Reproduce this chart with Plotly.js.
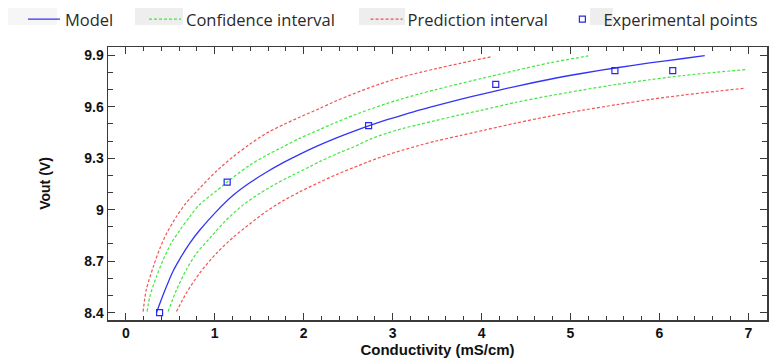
<!DOCTYPE html>
<html>
<head>
<meta charset="utf-8">
<script src="https://cdn.plot.ly/plotly-3.0.1.min.js"></script>
<style>html,body{margin:0;padding:0;background:#fff;}#chart{width:784px;height:364px;}</style>
</head>
<body>
<div id="chart"></div>
<script>
const modelX = [0.345, 0.44, 0.53, 0.61, 0.72, 0.83, 1.02, 1.21, 1.39, 1.58, 1.77, 1.96, 2.15, 2.37, 2.56, 2.73, 2.93, 3.12, 3.31, 3.49, 3.76, 4.02, 4.39, 4.77, 5.14, 5.52, 5.89, 6.27, 6.51];
const modelY = [8.40, 8.53, 8.64, 8.715, 8.805, 8.88, 8.99, 9.085, 9.155, 9.218, 9.274, 9.324, 9.37, 9.418, 9.456, 9.488, 9.523, 9.553, 9.582, 9.607, 9.643, 9.675, 9.719, 9.76, 9.795, 9.827, 9.855, 9.881, 9.898];

const confUpperX = [0.24, 0.27, 0.345, 0.42, 0.51, 0.61, 0.72, 0.83, 1.02, 1.21, 1.39, 1.58, 1.77, 1.96, 2.18, 2.37, 2.56, 2.745, 2.93, 3.12, 3.31, 3.49, 3.76, 4.02, 4.39, 4.77, 5.20];
const confUpperY = [8.406, 8.493, 8.61, 8.707, 8.804, 8.882, 8.96, 9.03, 9.11, 9.19, 9.258, 9.316, 9.367, 9.417, 9.467, 9.51, 9.55, 9.585, 9.618, 9.648, 9.676, 9.70, 9.735, 9.767, 9.812, 9.856, 9.896];

const confLowerX = [0.476, 0.57, 0.68, 0.795, 0.945, 1.13, 1.32, 1.51, 1.70, 1.88, 2.07, 2.18, 2.37, 2.56, 2.745, 2.93, 3.12, 3.31, 3.49, 3.76, 4.02, 4.39, 4.77, 5.14, 5.52, 5.89, 6.27, 6.64, 6.97];
const confLowerY = [8.406, 8.532, 8.649, 8.746, 8.834, 8.94, 9.028, 9.096, 9.154, 9.202, 9.251, 9.28, 9.325, 9.365, 9.41, 9.445, 9.474, 9.498, 9.52, 9.553, 9.582, 9.626, 9.664, 9.698, 9.73, 9.757, 9.782, 9.801, 9.816];

const predUpperX = [0.195, 0.23, 0.31, 0.38, 0.46, 0.57, 0.68, 0.83, 1.02, 1.21, 1.39, 1.58, 1.77, 1.96, 2.18, 2.37, 2.56, 2.745, 2.93, 3.12, 3.31, 3.49, 3.76, 4.10];
const predUpperY = [8.406, 8.532, 8.668, 8.77, 8.863, 8.96, 9.04, 9.125, 9.225, 9.31, 9.38, 9.445, 9.495, 9.54, 9.59, 9.635, 9.675, 9.712, 9.745, 9.775, 9.80, 9.822, 9.853, 9.89];

const predLowerX = [0.57, 0.68, 0.83, 1.02, 1.21, 1.39, 1.58, 1.77, 1.96, 2.18, 2.37, 2.56, 2.745, 2.93, 3.12, 3.31, 3.49, 3.76, 4.02, 4.39, 4.77, 5.14, 5.52, 5.89, 6.27, 6.64, 6.97];
const predLowerY = [8.406, 8.513, 8.63, 8.746, 8.84, 8.915, 8.99, 9.052, 9.105, 9.16, 9.205, 9.245, 9.283, 9.317, 9.348, 9.376, 9.40, 9.432, 9.462, 9.505, 9.545, 9.58, 9.612, 9.642, 9.668, 9.69, 9.708];

const pointsX = [0.38, 1.14, 2.73, 4.16, 5.50, 6.15];
const pointsY = [8.40, 9.16, 9.49, 9.73, 9.81, 9.81];

const xTickVals = [0, 1, 2, 3, 4, 5, 6, 7];
const yTickVals = [8.4, 8.7, 9, 9.3, 9.6, 9.9];
const yTickText = ['8.4', '8.7', '9', '9.3', '9.6', '9.9'];

const names = ['Model', 'Confidence interval', 'Prediction interval', 'Experimental points'];
const nb = '\u00a0';
const pad = [nb.repeat(6), nb.repeat(6), nb.repeat(2), ''];

const blue = 'rgba(30,30,245,0.9)';
const green = 'rgba(40,230,40,0.9)';
const red = 'rgba(245,50,50,0.85)';
const dash = '3px,2px';
const sm = 0.8;

const traces = [
  {x: modelX, y: modelY, mode: 'lines', name: names[0] + pad[0], line: {color: blue, width: 1.3, shape: 'spline', smoothing: sm}},
  {x: confUpperX, y: confUpperY, mode: 'lines', name: names[1] + pad[1], legendgroup: 'conf', line: {color: green, width: 1.2, dash: dash, shape: 'spline', smoothing: sm}},
  {x: confLowerX, y: confLowerY, mode: 'lines', name: names[1], legendgroup: 'conf', showlegend: false, line: {color: green, width: 1.2, dash: dash, shape: 'spline', smoothing: sm}},
  {x: predUpperX, y: predUpperY, mode: 'lines', name: names[2] + pad[2], legendgroup: 'pred', line: {color: red, width: 1.2, dash: dash, shape: 'spline', smoothing: sm}},
  {x: predLowerX, y: predLowerY, mode: 'lines', name: names[2], legendgroup: 'pred', showlegend: false, line: {color: red, width: 1.2, dash: dash, shape: 'spline', smoothing: sm}},
  {x: pointsX, y: pointsY, mode: 'markers', name: names[3], marker: {symbol: 'square-open', size: 6, color: 'rgb(40,40,240)', line: {width: 1.2}}}
];

const axisCommon = {
  showgrid: false, zeroline: false, showline: true, linecolor: '#3a3a3a', linewidth: 1.5,
  mirror: 'ticks', ticks: 'inside', ticklen: 7, tickwidth: 1.2, tickcolor: '#3a3a3a',
  tickfont: {family: 'Liberation Sans, Arial, sans-serif', size: 14, color: '#111', weight: 'bold'}
};

function box(x0, x1, c) {
  return {type: 'rect', xref: 'paper', yref: 'paper', x0: x0, x1: x1, y0: 1.0806, y1: 1.1429,
          fillcolor: c, line: {width: 0}, layer: 'below'};
}

const layout = {
  width: 784, height: 364,
  margin: {l: 108, r: 17, t: 47, b: 44, autoexpand: false},
  paper_bgcolor: '#fff', plot_bgcolor: '#fff',
  showlegend: true,
  legend: {orientation: 'h', x: -0.129, xanchor: 'left', xref: 'paper', y: 1.165, yanchor: 'top', yref: 'paper',
           font: {family: 'Open Sans, sans-serif', size: 16.5, color: '#2a2a2a'},
           itemwidth: 32, traceorder: 'normal', bgcolor: 'rgba(0,0,0,0)'},
  shapes: [
    box(-0.1517, -0.0774, '#f6f6f6'),
    box(0.041, 0.1138, '#eeeeee'),
    box(0.3809, 0.4507, '#eeeeee'),
    box(0.7314, 0.7663, '#eeeeee')
  ],
  xaxis: Object.assign({}, axisCommon, {
    range: [-0.2, 7.21], tickvals: xTickVals,
    minor: {dtick: 0.2, tick0: 0, ticks: 'inside', ticklen: 4, tickcolor: '#3a3a3a', tickwidth: 1},
    title: {text: 'Conductivity (mS/cm)', standoff: 4, font: {family: 'Liberation Sans, Arial, sans-serif', size: 15, color: '#111', weight: 'bold'}}
  }),
  yaxis: Object.assign({}, axisCommon, {
    range: [8.357, 9.948], tickvals: yTickVals, ticktext: yTickText,
    minor: {dtick: 0.1, tick0: 8.4, ticks: 'inside', ticklen: 5, tickcolor: '#3a3a3a', tickwidth: 1},
    title: {text: 'Vout (V)', standoff: 30, font: {family: 'Liberation Sans, Arial, sans-serif', size: 14, color: '#111', weight: 'bold'}}
  })
};

Plotly.newPlot('chart', traces, layout, {displayModeBar: false, staticPlot: true});
</script>
</body>
</html>
